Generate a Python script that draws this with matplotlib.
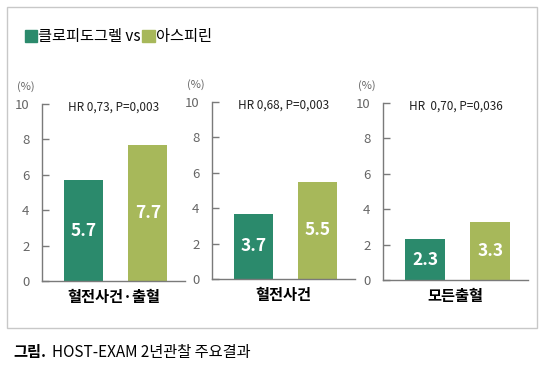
import matplotlib
matplotlib.use("Agg")
import matplotlib.pyplot as plt
from matplotlib.patches import Rectangle

plt.rcParams['font.family'] = ['Noto Sans CJK KR', 'DejaVu Sans']

categories = ["혈전사건·출혈", "혈전사건", "모든출혈"]
clopidogrel = [5.7, 3.7, 2.3]
aspirin = [7.7, 5.5, 3.3]
hr_texts = ["HR 0,73, P=0,003", "HR 0,68, P=0,003", "HR  0,70, P=0,036"]
yticks = [0, 2, 4, 6, 8, 10]
legend_names = ["클로피도그렐 vs", "아스피린"]

teal = "#2b8a6c"
olive = "#a7b85a"
axis_gray = "#7a7a7a"

W, H = 546, 369
fig = plt.figure(figsize=(W / 100, H / 100), dpi=100)

def fx(px):
    return px / W

def fy(py):
    return 1 - py / H

# outer frame
fig.patches.append(Rectangle((fx(7), fy(328)), fx(537) - fx(7), fy(7) - fy(328),
                             transform=fig.transFigure, fill=False,
                             edgecolor="#c8c8c8", linewidth=1.0))

# legend
fig.patches.append(Rectangle((fx(25), fy(42)), fx(12), fy(30) - fy(42),
                             transform=fig.transFigure, color=teal))
fig.text(fx(38), fy(36.5), legend_names[0], fontsize=11, va="center", ha="left")
fig.patches.append(Rectangle((fx(142), fy(42)), fx(13), fy(30) - fy(42),
                             transform=fig.transFigure, color=olive))
fig.text(fx(156), fy(36.5), legend_names[1], fontsize=11, va="center", ha="left")

# panel geometry: (left px, right px, zero px, ten px)
panels = [(42, 185, 281, 104), (212, 355, 279, 102), (383, 528, 280, 103)]
positions = [0.29, 0.74]

for i, (l, r, y0, y10) in enumerate(panels):
    ax = fig.add_axes([fx(l), fy(y0), fx(r - l), fy(y10) - fy(y0)])
    ax.set_xlim(0, 1)
    ax.set_ylim(0, 10)
    vals = [clopidogrel[i], aspirin[i]]
    bars = ax.bar(positions, vals, width=0.275, color=[teal, olive], zorder=2)
    for b, v in zip(bars, vals):
        ax.text(b.get_x() + b.get_width() / 2, v / 2, f"{v}", color="white",
                fontsize=12.5, fontweight="bold", ha="center", va="center", zorder=3)
    for s in ["top", "right"]:
        ax.spines[s].set_visible(False)
    for s in ["left", "bottom"]:
        ax.spines[s].set_color(axis_gray)
        ax.spines[s].set_linewidth(1.0)
    ax.set_yticks(yticks)
    ax.set_xticks([])
    ax.tick_params(axis="y", direction="in", length=5, width=1.0, color=axis_gray,
                   labelsize=9.5, labelcolor="#666666", pad=9)
    ax.set_xlabel(categories[i], fontsize=11, fontweight="bold", labelpad=6)
    ax.text(0.5, 9.85, hr_texts[i], fontsize=8.5, ha="center", va="center",
            color="#222222")
    ax.text(-0.11, 11.0, "(%)", fontsize=8, color="#666666", ha="center",
            va="center", clip_on=False)
    ax.patch.set_alpha(0)

# caption
fig.text(fx(13), fy(352), "그림.", fontsize=11, fontweight="bold", va="center", ha="left")
fig.text(fx(52), fy(352), "HOST-EXAM 2년관찰 주요결과", fontsize=11, va="center", ha="left")

fig.savefig("out.png", dpi=100)
